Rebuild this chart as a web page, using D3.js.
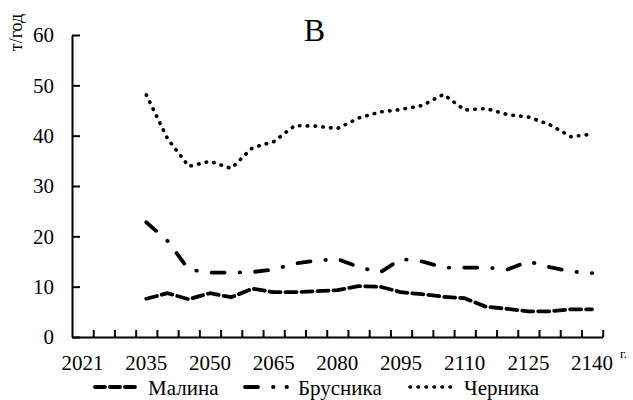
<!DOCTYPE html>
<html><head><meta charset="utf-8">
<script src="https://cdn.jsdelivr.net/npm/d3@7"></script>
<style>
html,body{margin:0;padding:0;background:#fff;}
svg{display:block;}
svg text{font-family:"Liberation Serif","Times New Roman",serif !important;fill:#000;}
</style></head>
<body>
<svg id="chart" width="633" height="400"></svg>
<script>
const years = ["2021","2025","2030","2035","2040","2045","2050","2055","2060","2065","2070","2075","2080","2085","2090","2095","2100","2105","2110","2115","2120","2125","2130","2135","2140"];
const tickLabels = ["2021","2035","2050","2065","2080","2095","2110","2125","2140"];
const yTicks = [0,10,20,30,40,50,60];
const malina =   [null,null,null,7.6,8.7,7.5,8.7,7.9,9.6,8.9,8.9,9.1,9.3,10.1,10.0,8.9,8.5,8.0,7.7,6.0,5.6,5.1,5.1,5.5,5.5];
const brusnika = [null,null,null,22.8,19.1,13.4,12.8,12.8,12.9,13.4,14.6,15.2,15.5,13.9,12.8,15.5,15.0,13.8,13.8,13.8,13.4,15.0,13.9,13.0,12.7];
const chernika = [null,null,null,48.1,39.4,33.9,34.9,33.5,37.6,38.8,42.0,41.9,41.4,43.5,44.7,45.2,46.0,48.2,45.1,45.4,44.2,43.7,42.2,39.8,40.3];
const seriesNames = ["Малина","Брусника","Черника"];

const svg = d3.select("#chart");
const x = d3.scaleBand().domain(years).range([72, 602.7]).padding(0);
const xIdx = d3.scaleLinear().domain([0, years.length]).range([72, 602.7]);
const y = d3.scaleLinear().domain([0, 60]).range([337, 35]);

const styles = [
  {dash:"11,5", cap:"round", w:3.8},
  {dash:"13,15,0.5,15", cap:"round", w:3.8},
  {dash:"0.5,7.3", cap:"round", w:3.6}
];
const data = [malina, brusnika, chernika];

// title
svg.append("text").attr("x",314.5).attr("y",41).attr("text-anchor","middle")
  .attr("font-size",32).text("В");

// y label
svg.append("text").attr("transform","translate(22,32.5) rotate(-90)")
  .attr("text-anchor","middle").attr("font-size",18).text("т/год");

// y axis
const yAxis = svg.append("g").attr("transform","translate(72,0)")
  .call(d3.axisLeft(y).tickValues(yTicks).tickSizeInner(-8).tickSizeOuter(0).tickPadding(18));
yAxis.selectAll("text").attr("font-size",21);
yAxis.selectAll("line").attr("stroke","#000").attr("stroke-width",2);
yAxis.select(".domain").attr("stroke","#000").attr("stroke-width",2);

// x axis ticks (band boundaries)
const xTickAxis = svg.append("g").attr("transform","translate(0,337)")
  .call(d3.axisBottom(xIdx).tickValues(d3.range(1, years.length+1))
    .tickSizeInner(-7).tickSizeOuter(0).tickFormat(""));
xTickAxis.selectAll("line").attr("stroke","#000").attr("stroke-width",2);
xTickAxis.select(".domain").attr("stroke","#000").attr("stroke-width",2);

// x labels
const xLab = svg.append("g").attr("transform","translate(0,337)")
  .call(d3.axisBottom(x).tickValues(tickLabels).tickSize(0).tickPadding(18));
xLab.select(".domain").remove();
xLab.selectAll("text").attr("font-size",21);

svg.append("text").attr("x",620).attr("y",358).attr("font-size",13).text("г.");

// lines
const line = d3.line()
  .defined(d => d.v !== null)
  .x(d => x(d.c) + x.bandwidth()/2)
  .y(d => y(d.v));

data.forEach((s, i) => {
  const pts = years.map((c, j) => ({c, v: s[j]}));
  svg.append("path").datum(pts).attr("d", line)
    .attr("fill","none").attr("stroke","#000")
    .attr("stroke-width", styles[i].w).attr("stroke-dasharray", styles[i].dash)
    .attr("stroke-linecap", styles[i].cap).attr("stroke-linejoin","round");
});

// legend
const legend = [
  {x1:95, x2:138, tx:148, dash:"10,5"},
  {x1:245, x2:293, tx:298, dash:"13,15,0.5,13,0.5,20"},
  {x1:410, x2:456, tx:464, dash:"0.5,7.5"}
];
legend.forEach((l, i) => {
  svg.append("line").attr("x1", l.x1).attr("x2", l.x2).attr("y1",387).attr("y2",387)
    .attr("stroke","#000").attr("stroke-width", styles[i].w)
    .attr("stroke-dasharray", l.dash).attr("stroke-linecap","round");
  svg.append("text").attr("x", l.tx).attr("y",394.5).attr("font-size",21)
    .text(seriesNames[i]);
});
</script>
</body></html>
